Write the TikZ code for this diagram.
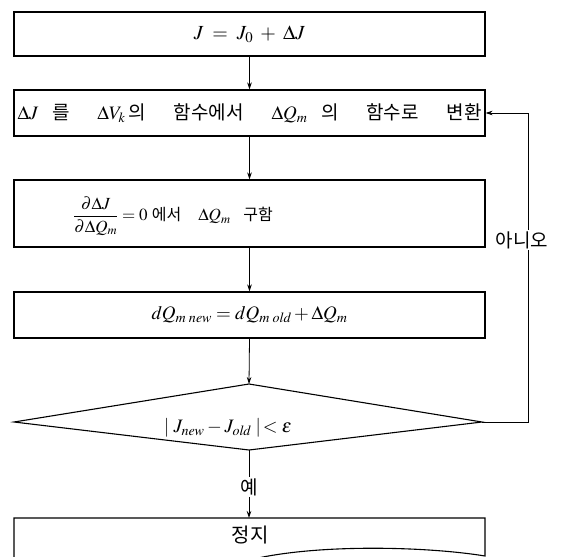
\documentclass[tikz,border=0pt]{standalone}
\usepackage{amsmath}
\usepackage{mathptmx}
\usepackage{fontspec}
\setmainfont{Liberation Serif}
\newfontfamily\kr{Noto Sans CJK KR}
\usetikzlibrary{arrows.meta}
\tikzset{
  box/.style={draw, line width=1.1pt, minimum width=471pt, inner xsep=3.5pt, inner ysep=0pt, font=\fontsize{19}{22}\selectfont},
  arr/.style={line width=0.8pt, -{Stealth[length=7pt,width=4.5pt]}},
  ln/.style={line width=0.8pt},
  lbl/.style={font=\kr\fontsize{19}{22}\selectfont, inner sep=1pt},
}
\begin{document}
\begin{tikzpicture}[x=1pt,y=-1pt]
\useasboundingbox (0,0) rectangle (561,556);
\clip (0,0) rectangle (561,556);
\node[box, minimum height=44pt, font=\fontsize{20}{24}\selectfont] (b1) at (249.5,34) {$J \;=\; J_0 \;+\; \Delta J$};
\node[box, minimum height=46pt] (b2) at (249.5,113)
  {\makebox[464pt][s]{$\Delta J$\ {\kr 를}\ \ $\Delta V_k$\,{\kr 의}\ \ {\kr 함수에서}\ \ $\Delta Q_m$\ {\kr 의}\ \ {\kr 함수로}\ \ {\kr 변환}}};
\node[box, minimum height=67pt] (b3) at (249.5,213.5) {};
\node[anchor=west, inner sep=0pt, font=\fontsize{17}{20}\selectfont] (t3) at (73,216)
  {$\dfrac{\partial\Delta J}{\partial\Delta Q_m} = 0$\ {\kr\fontsize{16}{20}\selectfont 에서}\ \ \ \ $\Delta Q_m$\ \ \ {\kr\fontsize{16}{20}\selectfont 구함}};
\node[box, minimum height=46pt] (b4) at (249.5,315) {$dQ_{m\;\mathit{new}} = dQ_{m\;\mathit{old}} + \Delta Q_m$};
% decision
\coordinate (dT) at (249,384);
\coordinate (dR) at (482,422);
\coordinate (dB) at (249,450);
\coordinate (dL) at (14,422);
\draw[line width=1.1pt] (dT) -- (dR) -- (dB) -- (dL) -- cycle;
\node[inner sep=0pt, font=\fontsize{19}{22}\selectfont] (t5) at (228,428) {$|\;J_{\mathit{new}} - J_{\mathit{old}}\;|\!< \varepsilon$};
% stop (document shape)
\coordinate (sT) at (249,518);
\draw[line width=1.1pt] (14,575) -- (14,518) -- (485,518) -- (485,556)
  .. controls (430,547) and (330,544) .. (263,557) .. controls (200,570) and (100,575) .. (14,575);
\node[lbl, font=\kr\fontsize{20}{24}\selectfont] (stop) at (250,535) {정지};
% connectors
\draw[arr] (b1.south) -- (b2.north);
\draw[arr] (b2.south) -- (b3.north);
\draw[arr] (b3.south) -- (b4.north);
\draw[arr] (b4.south) -- (dT);
\node[lbl, fill=white] (yes) at (249,487) {예};
\draw[ln] (dB) -- (yes.north);
\draw[arr] (yes.south) -- (sT);
\coordinate (lp) at (528,422);
\draw[arr] (dR) -- (lp) |- (b2.east);
\node[lbl, fill=white, inner sep=1pt] (no) at (522,240) {아니오};
\end{tikzpicture}
\end{document}
